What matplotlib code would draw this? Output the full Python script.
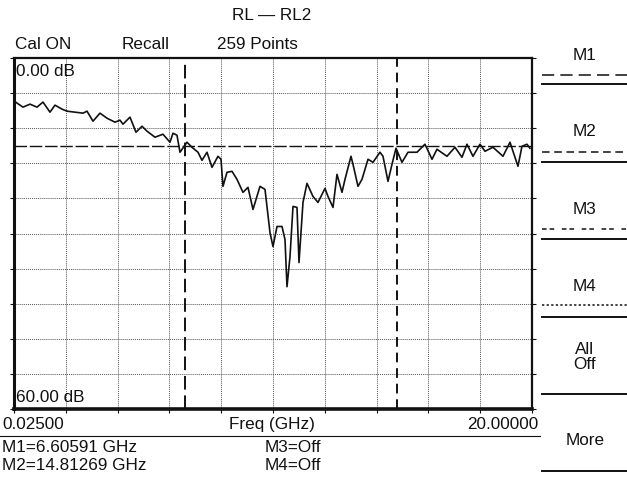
"""
Return loss sweep, RL -- RL2
Analyzer screen redraw
"""

            #################
            #### IMPORTS ####

import numpy as np
import matplotlib.pyplot as plt
from matplotlib.lines import Line2D

            ##############
            #### DATA ####

f_start = 0.025                 # sweep start [GHz]
f_stop = 20.0                   # sweep stop [GHz]
rl_top = 0.0                    # top of screen [dB]
rl_bottom = 60.0                # bottom of screen [dB]
limit_db = 15.0                 # limit line [dB]
m1_freq = 6.60591               # marker 1 [GHz]
m2_freq = 14.81269              # marker 2 [GHz]

freq = [0.025, 0.141, 0.372, 0.642, 0.912, 1.143, 1.413, 1.606, 1.876, 2.069,
        2.686, 2.840, 3.071, 3.341, 3.611, 3.920, 4.113, 4.228, 4.498, 4.729,
        4.961, 5.154, 5.462, 5.770, 6.040, 6.156, 6.310, 6.426, 6.696, 6.889,
        7.120, 7.274, 7.467, 7.660, 7.891, 8.007, 8.084, 8.238, 8.431, 8.624,
        8.855, 9.048, 9.241, 9.511, 9.704, 9.896, 10.012, 10.167, 10.360, 10.475,
        10.552, 10.668, 10.784, 10.938, 11.015, 11.169, 11.323, 11.554, 11.747, 12.017,
        12.133, 12.326, 12.480, 12.673, 12.789, 13.020, 13.097, 13.290, 13.444, 13.676,
        13.868, 14.138, 14.254, 14.447, 14.601, 14.755, 14.986, 15.218, 15.565, 15.873,
        16.143, 16.336, 16.721, 17.030, 17.300, 17.493, 17.724, 17.994, 18.187, 18.496,
        18.881, 19.151, 19.459, 19.613, 19.806, 19.921]

rl = [7.3, 7.71, 8.40, 7.89, 8.40, 7.54, 9.26, 8.06, 8.74, 9.09,
      9.43, 9.09, 10.80, 9.43, 10.29, 10.97, 10.63, 11.31, 10.11, 12.69,
      11.66, 12.51, 13.54, 13.03, 14.40, 12.86, 13.20, 16.11, 14.40, 15.26,
      16.11, 17.49, 16.11, 18.69, 16.80, 17.31, 21.94, 19.54, 19.37, 20.74,
      22.97, 22.11, 25.89, 21.94, 22.46, 29.83, 32.23, 28.80, 28.80, 31.03,
      39.09, 33.94, 25.37, 25.54, 34.97, 24.69, 21.43, 23.66, 24.69, 22.29,
      23.66, 25.54, 19.89, 22.97, 20.74, 16.80, 18.17, 21.94, 20.74, 17.31,
      17.83, 16.11, 16.80, 21.09, 18.17, 15.43, 17.83, 16.11, 16.11, 14.74,
      17.31, 15.60, 16.80, 15.26, 16.97, 14.74, 16.80, 14.74, 15.94, 15.26,
      16.80, 14.40, 18.51, 15.09, 14.74, 15.43]

header_labels = ['Cal ON', 'Recall', '259 Points']
softkeys = ['M1', 'M2', 'M3', 'M4', 'All\nOff', 'More']
marker_readout = ['M1=6.60591 GHz', 'M2=14.81269 GHz', 'M3=Off', 'M4=Off']

            ###############
            #### SETUP ####

W, H = 627, 481                                 # screen size in pixels
plt.rcParams['font.family'] = ['Liberation Sans', 'DejaVu Sans']
fs = 12.3                                       # screen font size
ink = '#111111'                                 # print ink colour

def px(x, y):
    """
    Convert screen pixel position to figure fraction
    -------------------------------
    x (float) : pixels from left
    y (float) : pixels from top
    -------------------------------
    returns (fx, fy) figure fractions
    """
    return x / W, 1 - y / H

def hline(fig, x0, x1, y, **kw):
    """
    Draw a horizontal line on the figure in pixel coords
    """
    a = px(x0, y)
    b = px(x1, y)
    fig.add_artist(Line2D([a[0], b[0]], [a[1], b[1]], color=ink, **kw))

fig = plt.figure(figsize=(W / 100, H / 100), dpi=100)

            ##############
            #### PLOT ####

x0, y0 = px(14, 410)
ax = fig.add_axes([x0, y0, 518 / W, 351 / H])
ax.set_xlim(f_start, f_stop)
ax.set_ylim(rl_bottom, rl_top)                  # 0 dB at top
ax.set_xticks(np.linspace(f_start, f_stop, 11))
ax.set_yticks(np.linspace(rl_top, rl_bottom, 11))
ax.set_xticklabels([])
ax.set_yticklabels([])
ax.tick_params(direction='out', length=3, width=0.8, right=True, color=ink)
ax.grid(True, color='#555555', linestyle=(0, (1, 1)), linewidth=0.7)
for side in ax.spines:
    ax.spines[side].set_linewidth(1.6)
    ax.spines[side].set_color(ink)
ax.spines['bottom'].set_linewidth(2.6)
ax.spines['left'].set_linewidth(2.2)

ax.axhline(limit_db, color=ink, linewidth=1.0, linestyle=(0, (9, 2)))
ax.axvline(m1_freq, color=ink, linewidth=1.4, linestyle=(0, (7, 3)))
ax.axvline(m2_freq, color=ink, linewidth=1.4, linestyle=(0, (5, 3)))
ax.plot(freq, rl, color=ink, linewidth=1.2)

ax.text(0.004, 0.965, '0.00 dB', transform=ax.transAxes, fontsize=fs,
        ha='left', va='center', color=ink)
ax.text(0.004, 0.037, '60.00 dB', transform=ax.transAxes, fontsize=fs,
        ha='left', va='center', color=ink)

            #################
            #### HEADERS ####

fig.text(*px(272, 15), 'RL \u2014 RL2', fontsize=fs, ha='center', va='center',
         color=ink)
for label, xpos in zip(header_labels, [15, 122, 217]):
    fig.text(*px(xpos, 45), label, fontsize=fs, ha='left', va='center', color=ink)

            ###################
            #### FREQ LINE ####

fig.text(*px(2, 425), '%.5f' % f_start, fontsize=fs, ha='left', va='center',
         color=ink)
fig.text(*px(272, 425), 'Freq (GHz)', fontsize=fs, ha='center', va='center',
         color=ink)
fig.text(*px(538, 425), '%.5f' % f_stop, fontsize=fs, ha='right', va='center',
         color=ink)
hline(fig, 0, 540, 437, linewidth=0.8)

fig.text(*px(2, 448), marker_readout[0], fontsize=fs, ha='left', va='center', color=ink)
fig.text(*px(2, 466), marker_readout[1], fontsize=fs, ha='left', va='center', color=ink)
fig.text(*px(265, 448), marker_readout[2], fontsize=fs, ha='left', va='center', color=ink)
fig.text(*px(265, 466), marker_readout[3], fontsize=fs, ha='left', va='center', color=ink)

            ##################
            #### SOFTKEYS ####

key_y = [55, 131, 210, 287, 357, 441]
sep_y = [85, 163, 240, 318, 395, 472]
key_styles = [(0, (8, 4)), (0, (5, 3)), (0, (3, 2, 3, 5)), (0, (1.5, 1.5))]
key_line_y = [76, 153, 230, 306]
for label, ky in zip(softkeys, key_y):
    fig.text(*px(585, ky), label, fontsize=fs, ha='center', va='center',
             linespacing=0.95, color=ink)
for ly, style in zip(key_line_y, key_styles):
    hline(fig, 542, 627, ly, linewidth=1.1, linestyle=style)
for sy in sep_y:
    hline(fig, 542, 627, sy, linewidth=1.4)

fig.savefig('out.png', dpi=100)
plt.close()
